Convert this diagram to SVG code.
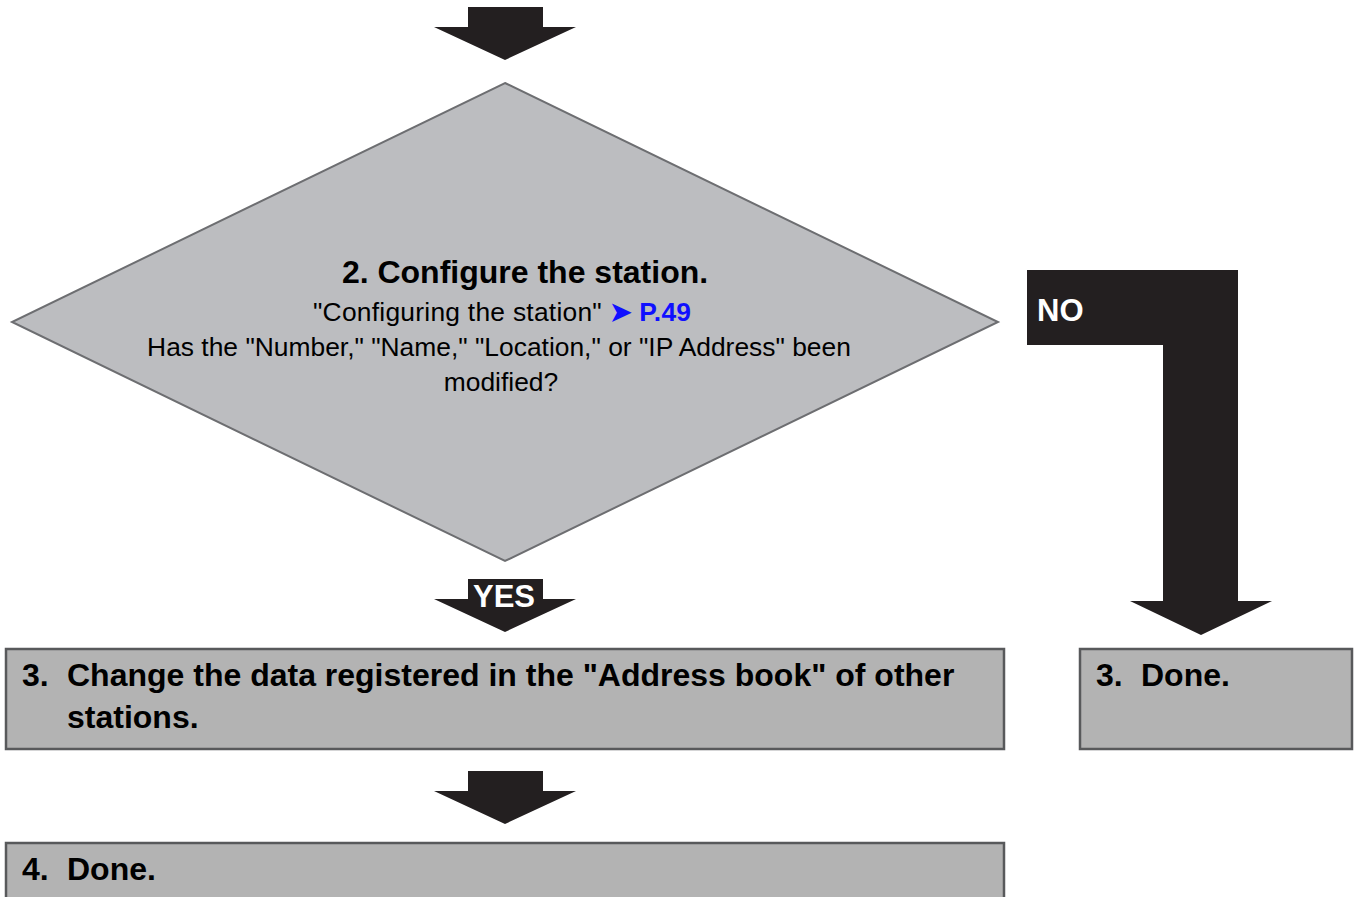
<svg xmlns="http://www.w3.org/2000/svg" width="1358" height="897" viewBox="0 0 1358 897">
<style>
.arrow{fill:#231f20}
.box{fill:#b3b3b3;stroke:#58595b;stroke-width:2.5}
.dia{fill:#bcbdc0;stroke:#6d6e71;stroke-width:2}
.bt{font-family:"Liberation Sans",Arial,sans-serif;font-weight:bold;font-size:32px;fill:#000}
.wt{font-family:"Liberation Sans",Arial,sans-serif;font-weight:bold;font-size:31px;fill:#fff}
.rt{font-family:"Liberation Sans",Arial,sans-serif;font-size:26.4px;fill:#000}
</style>
<rect width="1358" height="897" fill="#fff"/>
<g id="connectors">
  <path class="arrow" d="M468,7 H543 V27 H576 L505,60 L434,27 H468 Z"/>
  <path class="arrow" d="M468,579 H543 V599 H576 L505,632 L434,599 H468 Z"/>
  <path class="arrow" d="M468,771 H543 V791 H576 L505,824 L434,791 H468 Z"/>
  <path class="arrow" d="M1027,270 H1238 V601 H1272 L1201,635 L1130,601 H1163 V345 H1027 Z"/>
  <text class="wt" x="504" y="607" text-anchor="middle">YES</text>
  <text class="wt" x="1037" y="321">NO</text>
</g>
<g id="decision">
  <polygon class="dia" points="505,83 998,322 505,561 12,322"/>
  <text class="bt" x="525" y="283" text-anchor="middle">2. Configure the station.</text>
  <text class="rt" x="313" y="321" textLength="378">"Configuring the station" <tspan fill="#1010ff" font-weight="bold">➤ P.49</tspan></text>
  <text class="rt" x="499" y="356" text-anchor="middle">Has the "Number," "Name," "Location," or "IP Address" been</text>
  <text class="rt" x="501" y="391" text-anchor="middle">modified?</text>
</g>
<g id="step3">
  <rect class="box" x="6" y="649" width="998" height="100"/>
  <text class="bt" x="22" y="686">3.</text>
  <text class="bt" x="67" y="686">Change the data registered in the "Address book" of other</text>
  <text class="bt" x="67" y="728">stations.</text>
</g>
<g id="step3done">
  <rect class="box" x="1080" y="649" width="272" height="100"/>
  <text class="bt" x="1096" y="686">3.</text>
  <text class="bt" x="1141" y="686">Done.</text>
</g>
<g id="step4">
  <rect class="box" x="6" y="843" width="998" height="70"/>
  <text class="bt" x="22" y="880">4.</text>
  <text class="bt" x="67" y="880">Done.</text>
</g>
</svg>
